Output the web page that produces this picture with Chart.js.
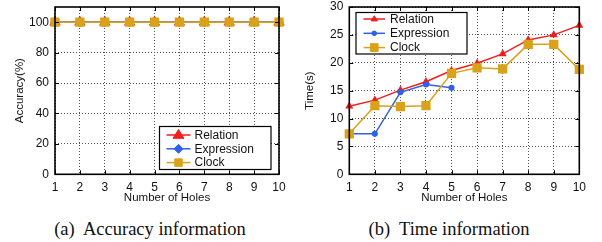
<!DOCTYPE html>
<html>
<head>
<meta charset="utf-8">
<script src="https://cdn.jsdelivr.net/npm/chart.js@4.4.1/dist/chart.umd.min.js"></script>
<style>
  html, body { margin: 0; padding: 0; background: #fff; }
  body { width: 602px; height: 242px; position: relative; overflow: hidden; }
  .wrap { position: absolute; top: 0; }
  .cap { position: absolute; top: 217px; font-family: "Liberation Serif", "Times New Roman", serif; font-size: 18.5px; line-height: 24px; color: #111; white-space: pre; transform: translateX(-50%); }
</style>
</head>
<body>
<div class="wrap" style="left:0;width:300px;height:210px;"><canvas id="c1" width="300" height="210"></canvas></div>
<div class="wrap" style="left:300px;width:302px;height:210px;"><canvas id="c2" width="302" height="210"></canvas></div>
<div class="cap" style="left:150px;">(a)  Accuracy information</div>
<div class="cap" style="left:449px;">(b)  Time information</div>
<script>
// ---- data ----
const categories = ['1','2','3','4','5','6','7','8','9','10'];
const seriesNames = ['Relation', 'Expression', 'Clock'];
const accRelation   = [100,100,100,100,100,100,100,100,100,100];
const accExpression = [100,100,100,100,100,100,100,100,100,100];
const accClock      = [100,100,100,100,100,100,100,100,100,100];
const timeRelation   = [12.2,13.3,15.1,16.6,18.6,19.9,21.6,24.1,25.0,26.7];
const timeExpression = [7.25,7.25,14.7,16.1,15.5];
const timeClock      = [7.25,12.3,12.15,12.3,18.1,19.1,18.9,23.3,23.3,18.8];
const accTicks  = [0,20,40,60,80,100];
const timeTicks = [0,5,10,15,20,25,30];

const RED = '#f21d1d', BLUE = '#2f62e0', GOLD = '#d9a21b';
const SANS = '"Liberation Sans", Arial, Helvetica, sans-serif';

function drawMarker(ctx, style, x, y, r, color) {
  ctx.save();
  ctx.fillStyle = color; ctx.strokeStyle = color; ctx.lineWidth = 1;
  ctx.beginPath();
  if (style === 'triangle') {
    ctx.moveTo(x, y - r);
    ctx.lineTo(x + r * 0.866 * 1.15, y + r * 0.6);
    ctx.lineTo(x - r * 0.866 * 1.15, y + r * 0.6);
    ctx.closePath();
  } else if (style === 'rectRot') {
    ctx.moveTo(x, y - r); ctx.lineTo(x + r, y); ctx.lineTo(x, y + r); ctx.lineTo(x - r, y); ctx.closePath();
  } else if (style === 'rect') {
    const s = r * Math.SQRT1_2;
    ctx.rect(x - s, y - s, 2 * s, 2 * s);
  } else {
    ctx.arc(x, y, r, 0, Math.PI * 2);
  }
  ctx.fill(); ctx.stroke();
  ctx.restore();
}

const framePlugin = {
  id: 'frame',
  afterDatasetsDraw(chart, args, opts) {
    const {ctx, chartArea: a} = chart;
    ctx.save();
    ctx.strokeStyle = '#000'; ctx.lineWidth = 1;
    const ys = chart.scales.y, xs = chart.scales.x;
    ys.ticks.forEach(t => {
      const py = Math.round(ys.getPixelForValue(t.value)) + 0.5;
      ctx.beginPath(); ctx.moveTo(a.left, py); ctx.lineTo(a.left + 4, py);
      ctx.moveTo(a.right, py); ctx.lineTo(a.right - 4, py); ctx.stroke();
    });
    xs.ticks.forEach((t, i) => {
      const px = Math.round(xs.getPixelForTick(i)) + 0.5;
      ctx.beginPath(); ctx.moveTo(px, a.bottom); ctx.lineTo(px, a.bottom - 4);
      ctx.moveTo(px, a.top); ctx.lineTo(px, a.top + 4); ctx.stroke();
    });
    ctx.lineWidth = 1.6;
    ctx.strokeRect(a.left, a.top, a.right - a.left, a.bottom - a.top);
    ctx.restore();
  },
  afterDraw(chart, args, opts) {
    const L = opts.legend;
    if (!L) return;
    const ctx = chart.ctx;
    ctx.save();
    ctx.fillStyle = '#fff';
    ctx.fillRect(L.x, L.y, L.w, L.h);
    ctx.strokeStyle = '#000'; ctx.lineWidth = 1.2;
    ctx.strokeRect(L.x, L.y, L.w, L.h);
    ctx.font = '12px ' + SANS;
    ctx.textBaseline = 'middle';
    chart.data.datasets.forEach((ds, i) => {
      const cy = L.y + L.first + i * L.step;
      ctx.strokeStyle = ds.borderColor; ctx.lineWidth = ds.borderWidth;
      ctx.beginPath(); ctx.moveTo(L.x + L.lx0, cy); ctx.lineTo(L.x + L.lx1, cy); ctx.stroke();
      drawMarker(ctx, ds.pointStyle, L.x + (L.lx0 + L.lx1) / 2, cy, L.mr[i], ds.borderColor);
      ctx.fillStyle = '#111';
      ctx.fillText(ds.label, L.x + L.tx, cy + 0.5);
    });
    ctx.restore();
  }
};

function makeChart(id, datasets, ymax, yticks, ytitle, yw, ytitlePad, padRight, legend) {
  return new Chart(document.getElementById(id), {
    type: 'line',
    data: { labels: categories, datasets },
    options: {
      responsive: false,
      animation: false,
      devicePixelRatio: 1,
      layout: { padding: { left: 0, right: padRight, top: 6.5, bottom: 0 } },
      plugins: { legend: { display: false }, tooltip: { enabled: false }, frame: { legend } },
      scales: {
        x: {
          type: 'category', offset: false,
          grid: { color: '#555', lineWidth: 1, drawTicks: false },
          border: { display: false, dash: [1, 2] },
          ticks: { color: '#111', font: { family: SANS, size: 12 }, padding: 6, maxRotation: 0, autoSkip: false },
          title: { display: true, text: 'Number of Holes', color: '#111', font: { family: SANS, size: 11.5 }, padding: { top: 0, bottom: 5 } },
          afterFit(s) { s.height = 35.7; s.paddingLeft = 0; s.paddingRight = 0; }
        },
        y: {
          min: 0, max: ymax,
          grid: { color: '#555', lineWidth: 1, drawTicks: false },
          border: { display: false, dash: [1, 2] },
          ticks: { color: '#111', font: { family: SANS, size: 12 }, padding: 6 },
          afterBuildTicks(s) { s.ticks = yticks.map(v => ({ value: v })); },
          title: { display: true, text: ytitle, color: '#111', font: { family: SANS, size: 11.5 }, padding: { top: ytitlePad, bottom: 0 } },
          afterFit(s) { s.width = yw; s.paddingTop = 0; s.paddingBottom = 0; }
        }
      }
    },
    plugins: [framePlugin]
  });
}

// later series are drawn on top (lower order = drawn last)
const ds = (label, data, color, style, r, w, order) => ({
  label, data, order, borderColor: color, backgroundColor: color, pointBackgroundColor: color,
  pointBorderColor: color, pointStyle: style, pointRadius: r, pointHoverRadius: r,
  borderWidth: w, tension: 0, fill: false, clip: false
});

makeChart('c1', [
  ds(seriesNames[0], accRelation, RED, 'triangle', 5.2, 1.5, 3),
  ds(seriesNames[1], accExpression, BLUE, 'rectRot', 4, 1.5, 2),
  ds(seriesNames[2], accClock, GOLD, 'rect', 5.5, 1.5, 1)
], 110, accTicks, 'Accuracy(%)', 55, 13, 21,
  { x: 159.5, y: 126.5, w: 111.5, h: 43, first: 8.5, step: 13.8, lx0: 7, lx1: 31, tx: 35, mr: [5.5, 4.5, 5.3] });

makeChart('c2', [
  ds(seriesNames[0], timeRelation, RED, 'triangle', 3.2, 1.5, 3),
  ds(seriesNames[1], timeExpression, BLUE, 'circle', 2.3, 1.5, 2),
  ds(seriesNames[2], timeClock, GOLD, 'rect', 5.5, 1.5, 1)
], 30, timeTicks, 'Time(s)', 49.3, 3, 22.7,
  { x: 56, y: 12.5, w: 111, h: 41.5, first: 6.5, step: 14.3, lx0: 7.5, lx1: 29, tx: 34, mr: [3.2, 2.3, 5.5] });
</script>
</body>
</html>
